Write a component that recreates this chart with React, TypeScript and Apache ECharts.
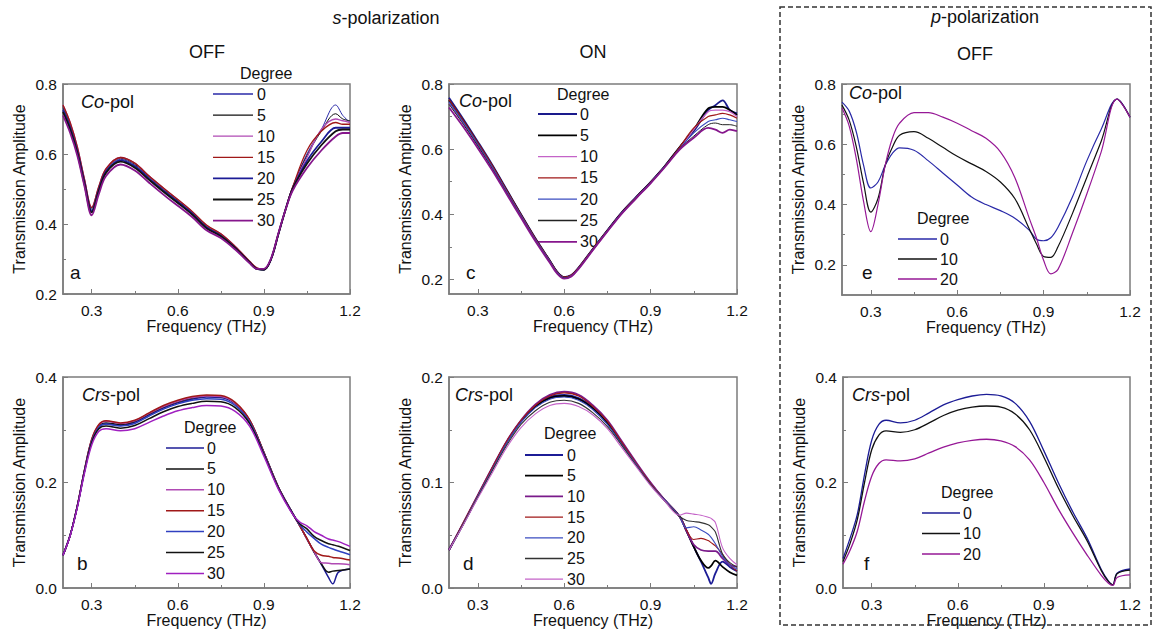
import React, { useEffect, useRef } from 'react';
import * as echarts from 'echarts';

const FONT = "'Liberation Sans', Arial, sans-serif";

// ---------- Panel a : s-pol OFF, Co-pol ----------
const aX = [0.2, 0.225, 0.25, 0.275, 0.3, 0.325, 0.35, 0.4, 0.45, 0.5, 0.55, 0.6, 0.65, 0.7, 0.75, 0.8, 0.85, 0.875, 0.9, 0.925, 0.95, 0.975, 1.0, 1.05, 1.1, 1.15, 1.175, 1.2];
const aDeg0 = [0.73, 0.68, 0.61, 0.52, 0.44, 0.5, 0.553, 0.585, 0.568, 0.532, 0.497, 0.465, 0.43, 0.392, 0.368, 0.334, 0.292, 0.274, 0.27, 0.3, 0.37, 0.44, 0.505, 0.6, 0.67, 0.74, 0.71, 0.69];
const aDeg5 = [0.735, 0.685, 0.615, 0.525, 0.445, 0.505, 0.556, 0.588, 0.571, 0.535, 0.5, 0.467, 0.432, 0.394, 0.37, 0.335, 0.293, 0.273, 0.268, 0.298, 0.368, 0.44, 0.505, 0.595, 0.665, 0.715, 0.7, 0.695];
const aDeg10 = [0.74, 0.69, 0.62, 0.528, 0.447, 0.507, 0.558, 0.59, 0.574, 0.537, 0.502, 0.47, 0.435, 0.396, 0.372, 0.336, 0.294, 0.275, 0.27, 0.3, 0.37, 0.44, 0.505, 0.59, 0.67, 0.7, 0.695, 0.69];
const aDeg15 = [0.74, 0.69, 0.62, 0.527, 0.447, 0.508, 0.558, 0.59, 0.574, 0.537, 0.503, 0.47, 0.436, 0.397, 0.372, 0.336, 0.294, 0.275, 0.271, 0.3, 0.37, 0.44, 0.505, 0.61, 0.665, 0.69, 0.685, 0.685];
const aDeg20 = [0.725, 0.675, 0.607, 0.517, 0.437, 0.498, 0.55, 0.582, 0.565, 0.529, 0.495, 0.463, 0.43, 0.39, 0.366, 0.332, 0.29, 0.272, 0.27, 0.3, 0.37, 0.44, 0.5, 0.58, 0.635, 0.675, 0.675, 0.675];
const aDeg25 = [0.72, 0.67, 0.602, 0.513, 0.433, 0.494, 0.546, 0.578, 0.561, 0.526, 0.492, 0.46, 0.427, 0.388, 0.365, 0.331, 0.29, 0.272, 0.27, 0.3, 0.37, 0.44, 0.5, 0.572, 0.625, 0.665, 0.67, 0.67];
const aDeg30 = [0.71, 0.66, 0.595, 0.507, 0.425, 0.486, 0.537, 0.57, 0.553, 0.518, 0.484, 0.452, 0.42, 0.382, 0.36, 0.327, 0.288, 0.272, 0.272, 0.302, 0.372, 0.44, 0.495, 0.56, 0.61, 0.65, 0.66, 0.66];

// ---------- Panel c : s-pol ON, Co-pol ----------
const cX = [0.2, 0.25, 0.3, 0.35, 0.4, 0.45, 0.5, 0.55, 0.575, 0.6, 0.625, 0.65, 0.7, 0.75, 0.8, 0.85, 0.9, 0.95, 1.0, 1.05, 1.1, 1.125, 1.15, 1.175, 1.2];
const cDeg0 = [0.758, 0.692, 0.623, 0.552, 0.476, 0.4, 0.326, 0.258, 0.224, 0.207, 0.213, 0.236, 0.294, 0.351, 0.406, 0.453, 0.499, 0.549, 0.605, 0.655, 0.72, 0.735, 0.75, 0.72, 0.71];
const cDeg5 = [0.75, 0.686, 0.618, 0.548, 0.473, 0.398, 0.324, 0.257, 0.223, 0.206, 0.212, 0.235, 0.293, 0.35, 0.405, 0.452, 0.498, 0.548, 0.605, 0.66, 0.725, 0.73, 0.73, 0.72, 0.705];
const cDeg10 = [0.74, 0.678, 0.61, 0.541, 0.467, 0.393, 0.32, 0.253, 0.22, 0.203, 0.21, 0.233, 0.29, 0.347, 0.402, 0.45, 0.496, 0.546, 0.6, 0.66, 0.715, 0.72, 0.72, 0.715, 0.7];
const cDeg15 = [0.752, 0.688, 0.62, 0.55, 0.474, 0.399, 0.325, 0.258, 0.224, 0.207, 0.213, 0.236, 0.294, 0.35, 0.405, 0.452, 0.498, 0.548, 0.605, 0.665, 0.7, 0.705, 0.71, 0.705, 0.695];
const cDeg20 = [0.745, 0.682, 0.615, 0.545, 0.47, 0.396, 0.322, 0.256, 0.222, 0.205, 0.211, 0.234, 0.292, 0.349, 0.404, 0.451, 0.497, 0.547, 0.6, 0.65, 0.685, 0.69, 0.695, 0.69, 0.685];
const cDeg25 = [0.738, 0.676, 0.61, 0.54, 0.466, 0.392, 0.319, 0.253, 0.22, 0.204, 0.21, 0.233, 0.291, 0.348, 0.403, 0.45, 0.496, 0.546, 0.6, 0.64, 0.675, 0.68, 0.675, 0.675, 0.67];
const cDeg30 = [0.728, 0.668, 0.603, 0.535, 0.462, 0.389, 0.317, 0.251, 0.218, 0.202, 0.209, 0.232, 0.29, 0.347, 0.402, 0.449, 0.495, 0.545, 0.598, 0.635, 0.665, 0.66, 0.65, 0.66, 0.655];

// ---------- Panel e : p-pol OFF, Co-pol ----------
const eX = [0.2, 0.225, 0.25, 0.275, 0.3, 0.325, 0.35, 0.375, 0.4, 0.45, 0.5, 0.55, 0.6, 0.65, 0.7, 0.75, 0.8, 0.85, 0.875, 0.9, 0.925, 0.95, 1.0, 1.05, 1.1, 1.155, 1.2];
const eDeg0 = [0.74, 0.71, 0.64, 0.53, 0.455, 0.475, 0.53, 0.57, 0.588, 0.58, 0.545, 0.505, 0.465, 0.425, 0.4, 0.38, 0.355, 0.315, 0.285, 0.28, 0.29, 0.325, 0.425, 0.545, 0.65, 0.75, 0.69];
const eDeg10 = [0.73, 0.68, 0.59, 0.47, 0.375, 0.42, 0.53, 0.59, 0.63, 0.642, 0.62, 0.59, 0.56, 0.535, 0.51, 0.475, 0.42, 0.32, 0.27, 0.228, 0.225, 0.26, 0.37, 0.49, 0.61, 0.75, 0.69];
const eDeg20 = [0.72, 0.66, 0.55, 0.41, 0.31, 0.4, 0.53, 0.62, 0.67, 0.705, 0.705, 0.69, 0.67, 0.645, 0.62, 0.575, 0.49, 0.355, 0.29, 0.215, 0.17, 0.185, 0.305, 0.435, 0.575, 0.75, 0.69];

// ---------- Panel b : s-pol OFF, Crs-pol ----------
const bX = [0.2, 0.225, 0.25, 0.275, 0.3, 0.325, 0.35, 0.4, 0.45, 0.5, 0.55, 0.6, 0.65, 0.7, 0.75, 0.8, 0.85, 0.9, 0.95, 1.0, 1.025, 1.05, 1.075, 1.1, 1.125, 1.14, 1.16, 1.2];
const bDeg0 = [0.062, 0.1, 0.155, 0.222, 0.278, 0.305, 0.311, 0.308, 0.314, 0.328, 0.341, 0.351, 0.358, 0.362, 0.361, 0.349, 0.318, 0.257, 0.192, 0.142, 0.118, 0.093, 0.068, 0.045, 0.02, 0.008, 0.03, 0.036];
const bDeg5 = [0.062, 0.1, 0.155, 0.223, 0.28, 0.307, 0.313, 0.31, 0.316, 0.33, 0.343, 0.353, 0.36, 0.364, 0.363, 0.35, 0.318, 0.257, 0.192, 0.142, 0.118, 0.093, 0.068, 0.046, 0.03, 0.032, 0.033, 0.036];
const bDeg10 = [0.062, 0.1, 0.156, 0.224, 0.281, 0.309, 0.316, 0.312, 0.317, 0.331, 0.344, 0.354, 0.361, 0.364, 0.363, 0.35, 0.318, 0.256, 0.191, 0.141, 0.118, 0.093, 0.069, 0.048, 0.047, 0.046, 0.046, 0.044];
const bDeg15 = [0.062, 0.1, 0.156, 0.224, 0.282, 0.31, 0.317, 0.313, 0.318, 0.332, 0.346, 0.356, 0.363, 0.366, 0.365, 0.352, 0.319, 0.257, 0.191, 0.141, 0.118, 0.094, 0.07, 0.062, 0.06, 0.058, 0.057, 0.053];
const bDeg20 = [0.062, 0.1, 0.155, 0.222, 0.278, 0.305, 0.311, 0.307, 0.312, 0.326, 0.339, 0.349, 0.356, 0.359, 0.358, 0.346, 0.315, 0.255, 0.19, 0.141, 0.12, 0.106, 0.094, 0.083, 0.077, 0.074, 0.07, 0.063];
const bDeg25 = [0.062, 0.1, 0.155, 0.221, 0.276, 0.302, 0.307, 0.303, 0.308, 0.321, 0.334, 0.344, 0.35, 0.354, 0.353, 0.342, 0.312, 0.253, 0.19, 0.141, 0.122, 0.112, 0.098, 0.09, 0.084, 0.082, 0.079, 0.071];
const bDeg30 = [0.062, 0.099, 0.153, 0.218, 0.271, 0.297, 0.302, 0.298, 0.302, 0.314, 0.326, 0.336, 0.342, 0.346, 0.345, 0.335, 0.307, 0.25, 0.188, 0.14, 0.125, 0.118, 0.107, 0.1, 0.093, 0.091, 0.088, 0.079];

// ---------- Panel d : s-pol ON, Crs-pol ----------
const dX = [0.2, 0.25, 0.3, 0.35, 0.4, 0.45, 0.5, 0.55, 0.6, 0.65, 0.7, 0.75, 0.8, 0.85, 0.9, 0.95, 1.0, 1.025, 1.05, 1.075, 1.1, 1.11, 1.125, 1.15, 1.175, 1.2];
const dDeg0 = [0.036, 0.061, 0.087, 0.113, 0.138, 0.158, 0.172, 0.181, 0.183, 0.18, 0.171, 0.157, 0.138, 0.118, 0.099, 0.083, 0.068, 0.054, 0.039, 0.025, 0.01, 0.004, 0.014, 0.025, 0.02, 0.016];
const dDeg5 = [0.036, 0.061, 0.087, 0.113, 0.138, 0.158, 0.172, 0.18, 0.182, 0.179, 0.17, 0.156, 0.137, 0.117, 0.099, 0.083, 0.068, 0.054, 0.039, 0.026, 0.019, 0.021, 0.026, 0.02, 0.015, 0.012];
const dDeg10 = [0.036, 0.062, 0.088, 0.114, 0.139, 0.159, 0.174, 0.183, 0.186, 0.183, 0.173, 0.159, 0.139, 0.119, 0.1, 0.083, 0.068, 0.054, 0.041, 0.036, 0.035, 0.035, 0.035, 0.028, 0.022, 0.02];
const dDeg15 = [0.036, 0.062, 0.088, 0.114, 0.139, 0.159, 0.173, 0.182, 0.185, 0.182, 0.172, 0.158, 0.138, 0.118, 0.099, 0.083, 0.068, 0.055, 0.046, 0.047, 0.045, 0.043, 0.04, 0.032, 0.022, 0.016];
const dDeg20 = [0.036, 0.061, 0.087, 0.112, 0.137, 0.157, 0.171, 0.179, 0.181, 0.178, 0.169, 0.155, 0.136, 0.117, 0.098, 0.083, 0.068, 0.057, 0.058, 0.055, 0.051, 0.048, 0.042, 0.03, 0.022, 0.018];
const dDeg25 = [0.036, 0.061, 0.086, 0.111, 0.135, 0.155, 0.168, 0.176, 0.178, 0.175, 0.166, 0.153, 0.135, 0.116, 0.098, 0.082, 0.068, 0.064, 0.063, 0.062, 0.06, 0.058, 0.053, 0.032, 0.024, 0.02];
const dDeg30 = [0.036, 0.06, 0.085, 0.109, 0.133, 0.152, 0.165, 0.173, 0.175, 0.172, 0.164, 0.151, 0.133, 0.115, 0.097, 0.082, 0.069, 0.071, 0.07, 0.069, 0.067, 0.066, 0.062, 0.038, 0.028, 0.022];

// ---------- Panel f : p-pol OFF, Crs-pol ----------
const fX = [0.2, 0.225, 0.25, 0.275, 0.3, 0.325, 0.35, 0.4, 0.45, 0.5, 0.55, 0.6, 0.65, 0.7, 0.75, 0.8, 0.85, 0.9, 0.95, 1.0, 1.05, 1.1, 1.125, 1.14, 1.155, 1.2];
const fDeg0 = [0.056, 0.095, 0.14, 0.215, 0.28, 0.31, 0.318, 0.313, 0.318, 0.332, 0.347, 0.357, 0.364, 0.367, 0.364, 0.35, 0.316, 0.26, 0.2, 0.145, 0.095, 0.035, 0.013, 0.006, 0.028, 0.036];
const fDeg10 = [0.05, 0.085, 0.13, 0.2, 0.262, 0.29, 0.298, 0.295, 0.3, 0.313, 0.327, 0.337, 0.343, 0.345, 0.343, 0.33, 0.3, 0.248, 0.19, 0.138, 0.09, 0.033, 0.012, 0.006, 0.027, 0.034];
const fDeg20 = [0.045, 0.072, 0.108, 0.165, 0.212, 0.236, 0.243, 0.241, 0.245, 0.256, 0.267, 0.275, 0.28, 0.282, 0.279, 0.268, 0.243, 0.2, 0.15, 0.105, 0.063, 0.024, 0.009, 0.005, 0.02, 0.025];

// ---------- labels ----------
const degreesS = ['0', '5', '10', '15', '20', '25', '30'];
const degreesP = ['0', '10', '20'];
const xTicks = [0.3, 0.6, 0.9, 1.2];
const xMinor = [0.45, 0.75, 1.05];

type Panel = {
  rect: { left: number; top: number; width: number; height: number };
  yMin: number; yMax: number; yTicks: number[]; yMinor: number[];
  x: number[]; ys: number[][]; names: string[];
  colors: string[]; widths: number[];
  legend: { tx: number; ty: number; x1: number; x2: number; lx: number; y0: number; step: number };
  pol: { text: string; x: number; y: number };
  letter: { text: string; x: number; y: number };
};

const panels: Panel[] = [
  {
    rect: { left: 63, top: 84, width: 287, height: 210 },
    yMin: 0.2, yMax: 0.8, yTicks: [0.2, 0.4, 0.6, 0.8], yMinor: [0.3, 0.5, 0.7],
    x: aX, ys: [aDeg0, aDeg5, aDeg10, aDeg15, aDeg20, aDeg25, aDeg30], names: degreesS,
    colors: ['#2a2aa8', '#111111', '#b04ab4', '#a01818', '#1c1c96', '#111111', '#86168c'],
    widths: [1, 1, 1.3, 1.3, 1.8, 1.8, 1.8],
    legend: { tx: 240, ty: 73, x1: 213, x2: 253, lx: 257, y0: 94, step: 21.1 },
    pol: { text: '{i|Co}-pol', x: 81, y: 102 },
    letter: { text: 'a', x: 70, y: 272 },
  },
  {
    rect: { left: 449, top: 84, width: 288, height: 210 },
    yMin: 0.155, yMax: 0.8, yTicks: [0.2, 0.4, 0.6, 0.8], yMinor: [0.3, 0.5, 0.7],
    x: cX, ys: [cDeg0, cDeg5, cDeg10, cDeg15, cDeg20, cDeg25, cDeg30], names: degreesS,
    colors: ['#1a1a8c', '#000000', '#c463c8', '#a01818', '#3a4cc0', '#222222', '#86168c'],
    widths: [1.8, 1.8, 1.3, 1.2, 1.1, 1, 1.8],
    legend: { tx: 557, ty: 94, x1: 538, x2: 577, lx: 580, y0: 114, step: 21.3 },
    pol: { text: '{i|Co}-pol', x: 459, y: 101 },
    letter: { text: 'c', x: 466, y: 272 },
  },
  {
    rect: { left: 842, top: 84, width: 288, height: 211 },
    yMin: 0.1, yMax: 0.8, yTicks: [0.2, 0.4, 0.6, 0.8], yMinor: [0.3, 0.5, 0.7],
    x: eX, ys: [eDeg0, eDeg10, eDeg20], names: degreesP,
    colors: ['#2a2aa8', '#111111', '#961896'],
    widths: [1.2, 1.2, 1.2],
    legend: { tx: 917, ty: 218, x1: 898, x2: 937, lx: 940, y0: 239, step: 20 },
    pol: { text: '{i|Co}-pol', x: 849, y: 93 },
    letter: { text: 'e', x: 862, y: 272 },
  },
  {
    rect: { left: 63, top: 377, width: 287, height: 211 },
    yMin: 0, yMax: 0.4, yTicks: [0, 0.2, 0.4], yMinor: [0.1, 0.3],
    x: bX, ys: [bDeg0, bDeg5, bDeg10, bDeg15, bDeg20, bDeg25, bDeg30], names: degreesS,
    colors: ['#1c1c96', '#111111', '#b04ab4', '#a01818', '#3040c0', '#111111', '#a020c0'],
    widths: [1.5, 1.5, 1.5, 1.5, 1.5, 1.5, 1.5],
    legend: { tx: 184, ty: 427, x1: 166, x2: 204, lx: 207, y0: 448, step: 20.9 },
    pol: { text: '{i|Crs}-pol', x: 82, y: 395 },
    letter: { text: 'b', x: 77, y: 563 },
  },
  {
    rect: { left: 449, top: 377, width: 288, height: 211 },
    yMin: 0, yMax: 0.2, yTicks: [0, 0.1, 0.2], yMinor: [0.05, 0.15],
    x: dX, ys: [dDeg0, dDeg5, dDeg10, dDeg15, dDeg20, dDeg25, dDeg30], names: degreesS,
    colors: ['#1c1c96', '#000000', '#7a1a8a', '#a01818', '#3a4cc0', '#333333', '#c463c8'],
    widths: [1.8, 1.8, 1.8, 1.1, 1.1, 1.1, 1.1],
    legend: { tx: 544, ty: 433, x1: 525, x2: 563, lx: 567, y0: 455, step: 20.7 },
    pol: { text: '{i|Crs}-pol', x: 455, y: 395 },
    letter: { text: 'd', x: 463, y: 563 },
  },
  {
    rect: { left: 843, top: 377, width: 287, height: 211 },
    yMin: 0, yMax: 0.4, yTicks: [0, 0.2, 0.4], yMinor: [0.1, 0.3],
    x: fX, ys: [fDeg0, fDeg10, fDeg20], names: degreesP,
    colors: ['#1c1c96', '#111111', '#961896'],
    widths: [1.3, 1.3, 1.3],
    legend: { tx: 941, ty: 492, x1: 922, x2: 960, lx: 963, y0: 513, step: 20.5 },
    pol: { text: '{i|Crs}-pol', x: 852, y: 395 },
    letter: { text: 'f', x: 864, y: 563 },
  },
];

const AXIS_COLOR = '#7c7c7c';

function buildOption() {
  const grid: any[] = [];
  const xAxis: any[] = [];
  const yAxis: any[] = [];
  const series: any[] = [];
  const graphic: any[] = [];

  panels.forEach((p, i) => {
    grid.push({ ...p.rect, show: true, borderColor: AXIS_COLOR, borderWidth: 1.5, backgroundColor: 'transparent' });
    const common = { type: 'value', gridIndex: i, min: 0.2, max: 1.2, splitLine: { show: false } };
    xAxis.push({
      ...common, position: 'bottom',
      name: 'Frequency (THz)', nameLocation: 'middle', nameGap: 24,
      nameTextStyle: { fontFamily: FONT, fontSize: 16, color: '#111' },
      axisLine: { show: true, lineStyle: { color: AXIS_COLOR, width: 1.5 } },
      axisTick: { show: true, inside: true, length: 5, customValues: xTicks, lineStyle: { color: AXIS_COLOR, width: 1 } },
      axisLabel: { show: true, customValues: xTicks, margin: 8, fontFamily: FONT, fontSize: 15.5, color: '#111', formatter: (v: number) => v.toFixed(1) },
    });
    xAxis.push({
      ...common, position: 'bottom',
      axisLine: { show: false },
      axisTick: { show: true, inside: true, length: 3, customValues: xMinor, lineStyle: { color: AXIS_COLOR, width: 1 } },
      axisLabel: { show: false },
    });
    const yc = { type: 'value', gridIndex: i, min: p.yMin, max: p.yMax, splitLine: { show: false } };
    yAxis.push({
      ...yc, position: 'left',
      name: 'Transmission Amplitude', nameLocation: 'middle', nameGap: 36,
      nameTextStyle: { fontFamily: FONT, fontSize: 16, color: '#111' },
      axisLine: { show: true, lineStyle: { color: AXIS_COLOR, width: 1.5 } },
      axisTick: { show: true, inside: true, length: 5, customValues: p.yTicks, lineStyle: { color: AXIS_COLOR, width: 1 } },
      axisLabel: { show: true, customValues: p.yTicks, margin: 6, fontFamily: FONT, fontSize: 15.5, color: '#111', formatter: (v: number) => v.toFixed(1) },
    });
    yAxis.push({
      ...yc, position: 'left',
      axisLine: { show: false },
      axisTick: { show: true, inside: true, length: 3, customValues: p.yMinor, lineStyle: { color: AXIS_COLOR, width: 1 } },
      axisLabel: { show: false },
    });

    p.ys.forEach((ys, k) => {
      series.push({
        type: 'line',
        name: `${String.fromCharCode(97 + i)}-${p.names[k]}`,
        xAxisIndex: 2 * i,
        yAxisIndex: 2 * i,
        data: p.x.map((xv, j) => [xv, ys[j]]),
        showSymbol: false,
        symbol: 'none',
        smooth: 0.35,
        lineStyle: { color: p.colors[k], width: p.widths[k] },
        itemStyle: { color: p.colors[k] },
        emphasis: { disabled: true },
        z: 2,
      });
    });

    // legend (drawn manually)
    const L = p.legend;
    graphic.push({
      type: 'text', x: L.tx, y: L.ty,
      style: { text: 'Degree', font: `16px ${FONT}`, fill: '#111', align: 'left', verticalAlign: 'middle' },
    });
    p.names.forEach((n, k) => {
      const yy = L.y0 + k * L.step;
      graphic.push({
        type: 'line', shape: { x1: L.x1, y1: yy, x2: L.x2, y2: yy },
        style: { stroke: p.colors[k], lineWidth: Math.max(1.3, p.widths[k]) },
      });
      graphic.push({
        type: 'text', x: L.lx, y: yy,
        style: { text: n, font: `16px ${FONT}`, fill: '#111', align: 'left', verticalAlign: 'middle' },
      });
    });
    graphic.push({
      type: 'text', x: p.pol.x, y: p.pol.y,
      style: {
        text: p.pol.text, font: `18px ${FONT}`, fill: '#111', align: 'left', verticalAlign: 'middle',
        rich: { i: { fontStyle: 'italic', fontSize: 18, fontFamily: FONT, fill: '#111' } },
      },
    });
    graphic.push({
      type: 'text', x: p.letter.x, y: p.letter.y,
      style: { text: p.letter.text, font: `19px ${FONT}`, fill: '#111', align: 'left', verticalAlign: 'middle' },
    });
  });

  // headings
  graphic.push({
    type: 'text', x: 386, y: 18,
    style: { text: '{i|s}-polarization', font: `18px ${FONT}`, fill: '#111', align: 'center', verticalAlign: 'middle', rich: { i: { fontStyle: 'italic', fontSize: 18, fontFamily: FONT } } },
  });
  graphic.push({ type: 'text', x: 207, y: 52, style: { text: 'OFF', font: `18px ${FONT}`, fill: '#111', align: 'center', verticalAlign: 'middle' } });
  graphic.push({ type: 'text', x: 593, y: 52, style: { text: 'ON', font: `18px ${FONT}`, fill: '#111', align: 'center', verticalAlign: 'middle' } });
  graphic.push({
    type: 'text', x: 985, y: 17,
    style: { text: '{i|p}-polarization', font: `18px ${FONT}`, fill: '#111', align: 'center', verticalAlign: 'middle', rich: { i: { fontStyle: 'italic', fontSize: 18, fontFamily: FONT } } },
  });
  graphic.push({ type: 'text', x: 975, y: 54, style: { text: 'OFF', font: `18px ${FONT}`, fill: '#111', align: 'center', verticalAlign: 'middle' } });
  graphic.push({
    type: 'rect', shape: { x: 780, y: 7, width: 371, height: 618 },
    style: { fill: 'none', stroke: '#333', lineWidth: 1.5, lineDash: [5, 3] }, z: 10,
  });

  return {
    animation: false,
    backgroundColor: '#ffffff',
    textStyle: { fontFamily: FONT },
    grid, xAxis, yAxis, series, graphic,
  };
}

export default function App() {
  const ref = useRef<HTMLDivElement>(null);
  useEffect(() => {
    if (!ref.current) return;
    const chart = echarts.init(ref.current, undefined, { renderer: 'svg' });
    chart.setOption(buildOption() as any);
    return () => chart.dispose();
  }, []);
  return <div ref={ref} style={{ position: 'absolute', left: 0, top: 0, width: 1154, height: 634 }} />;
}
